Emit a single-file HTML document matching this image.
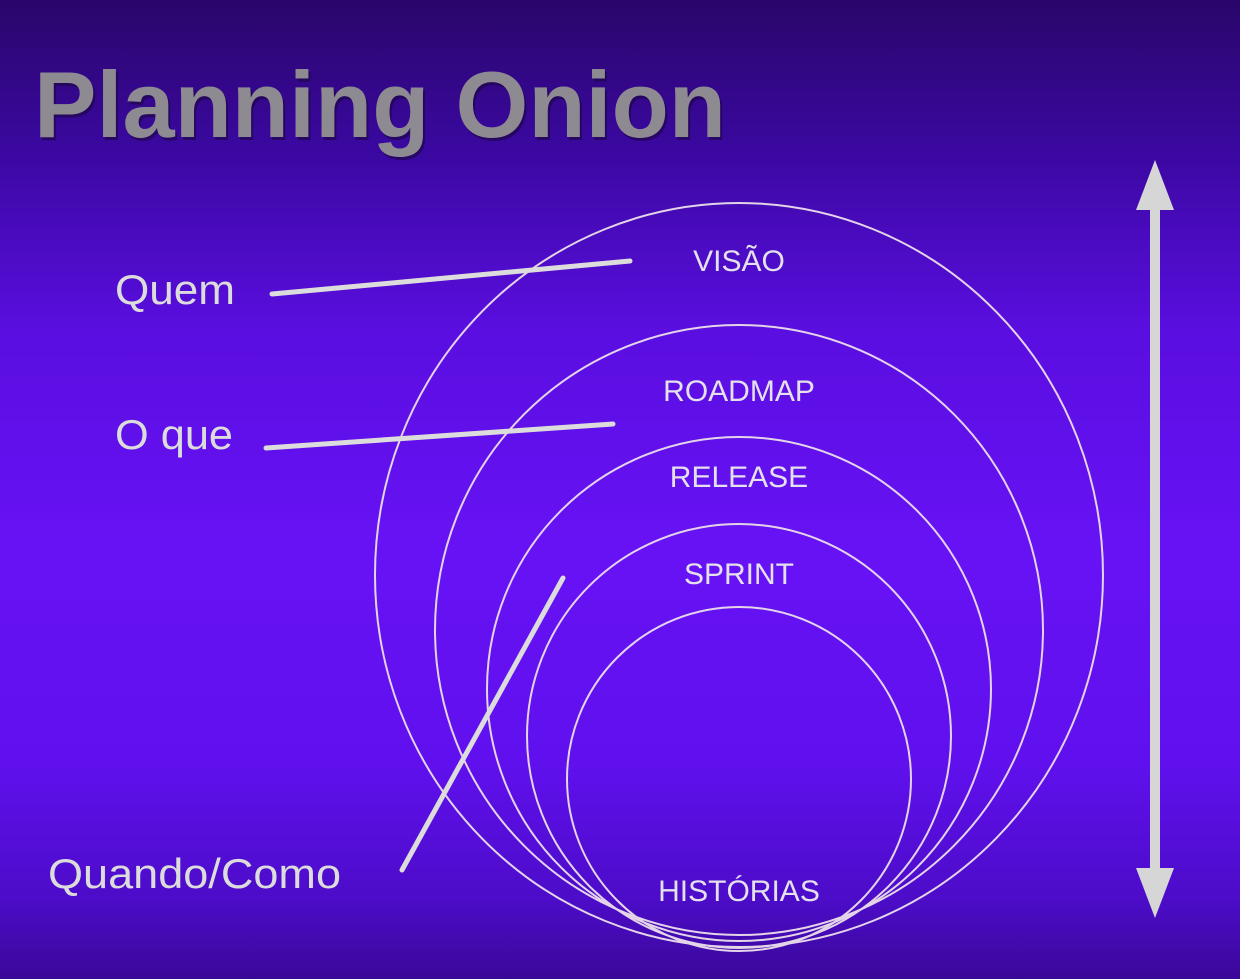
<!DOCTYPE html>
<html><head><meta charset="utf-8"><style>
html,body{margin:0;padding:0}
body{width:1240px;height:979px;overflow:hidden;background:linear-gradient(180deg,#2a066a 0px,#3a08a0 150px,#5a0ee0 330px,#6712f5 550px,#6010ee 760px,#4c0cc8 900px,#3a0898 979px);font-family:"Liberation Sans",sans-serif;position:relative}
</style></head><body>
<svg width="1240" height="979" style="position:absolute;left:0;top:0">
<text x="34" y="137" font-family="Liberation Sans" font-weight="bold" font-size="94" fill="#1c0640" opacity="0.6" transform="translate(2,3)" textLength="692" lengthAdjust="spacingAndGlyphs">Planning Onion</text>
<text x="34" y="137" font-family="Liberation Sans" font-weight="bold" font-size="94" fill="#8d8a92" textLength="692" lengthAdjust="spacingAndGlyphs">Planning Onion</text>
<g fill="none" stroke="#e4d4e8" stroke-width="2">
<ellipse cx="739" cy="575" rx="364" ry="372"/>
<ellipse cx="739" cy="630" rx="304" ry="305"/>
<circle cx="739" cy="689" r="252"/>
<circle cx="739" cy="736" r="212"/>
<circle cx="739" cy="779" r="172"/>
</g>
<g stroke="#dcdcdc" stroke-width="5" stroke-linecap="round">
<line x1="272" y1="294" x2="630" y2="261"/>
<line x1="266" y1="448" x2="613" y2="424"/>
<line x1="402" y1="870" x2="563" y2="578"/>
</g>
<g fill="#dcdcdc" font-family="Liberation Sans" font-size="42">
<text x="115" y="304" textLength="120" lengthAdjust="spacingAndGlyphs">Quem</text>
<text x="115" y="449" textLength="118" lengthAdjust="spacingAndGlyphs">O que</text>
<text x="48" y="888" textLength="293" lengthAdjust="spacingAndGlyphs">Quando/Como</text>
</g>
<g fill="#e4e0ec" font-family="Liberation Sans" font-size="30" text-anchor="middle">
<text x="739" y="271">VISÃO</text>
<text x="739" y="401">ROADMAP</text>
<text x="739" y="487">RELEASE</text>
<text x="739" y="584">SPRINT</text>
<text x="739" y="901">HISTÓRIAS</text>
</g>
<rect x="1150" y="205" width="10" height="670" fill="#d6d6d6"/>
<polygon points="1155,160 1136,210 1174,210" fill="#d6d6d6"/>
<polygon points="1155,918 1136,868 1174,868" fill="#d6d6d6"/>
</svg>
</body></html>
